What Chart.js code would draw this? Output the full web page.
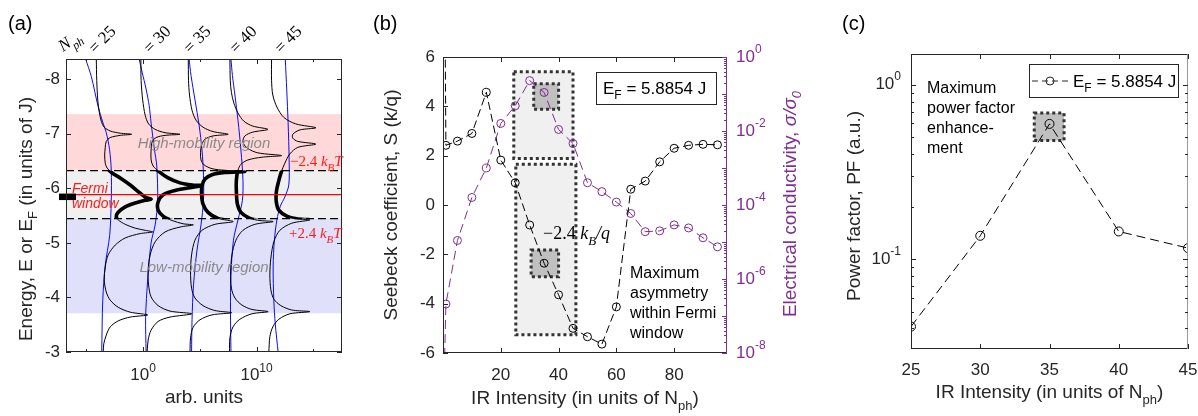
<!DOCTYPE html>
<html>
<head>
<meta charset="utf-8">
<title>IR intensity: DOS, Seebeck coefficient and power factor</title>
<script src="https://cdn.jsdelivr.net/npm/chart.js@4.4.1/dist/chart.umd.min.js"></script>
<style>
  html, body { margin: 0; padding: 0; background: #fff; }
  #wrap { position: relative; width: 1198px; height: 416px; overflow: hidden; }
  canvas { position: absolute; top: 0; }
</style>
</head>
<body>
<div id="wrap">
  <canvas id="chartA" width="360" height="416" style="left:0px"></canvas>
  <canvas id="chartB" width="460" height="416" style="left:360px"></canvas>
  <canvas id="chartC" width="378" height="416" style="left:820px"></canvas>
</div>
<script>
// ---------- (a) density of states / occupation curves ----------
// points are [log10(arb. units), energy in J]
const energyTicks = [-8, -7, -6, -5, -4, -3];
const arbTicksMajor = [0, 10];
const arbTicksMinor = [-5, 5, 15];
const photonCounts = [25, 30, 35, 40, 45];
const fermiLevel = -5.8854;
const windowHalf = 0.44;          // 2.4 kBT
const highBand = [-7.36, -6.3254];
const lowBand = [-5.4454, -3.71];

const dos25 = [[-4.13,-8.37],[-4.09,-7.98],[-4.00,-7.62],[-3.87,-7.40],[-3.69,-7.23],[-3.43,-7.12],[-2.90,-7.05],[-2.02,-7.01],[-1.01,-6.99],[-2.02,-6.97],[-2.90,-6.93],[-3.25,-6.86],[-3.34,-6.75],[-3.39,-6.61],[-3.34,-6.46],[-3.17,-6.37],[-2.73,-6.28],[-2.02,-6.19],[-1.14,-6.06],[-0.26,-5.91],[0.26,-5.83],[0.70,-5.80],[0.18,-5.78],[-0.70,-5.73],[-1.58,-5.66],[-2.20,-5.56],[-2.37,-5.48],[-2.20,-5.42],[-1.58,-5.34],[-0.70,-5.27],[0.18,-5.23],[0.84,-5.20],[-0.26,-5.17],[-1.58,-5.09],[-2.46,-4.96],[-3.08,-4.78],[-3.34,-4.56],[-3.43,-4.32],[-3.25,-4.10],[-2.90,-3.95],[-2.20,-3.82],[-1.14,-3.73],[0.40,-3.68],[-1.14,-3.64],[-2.20,-3.57],[-2.90,-3.46],[-3.25,-3.31],[-3.47,-3.15],[-3.52,-3.00]];
const occ25 = [[-5.07,-8.37],[-4.57,-8.05],[-3.98,-7.51],[-3.54,-7.20],[-3.25,-7.02],[-2.96,-6.71],[-2.81,-6.33],[-2.81,-5.78],[-2.95,-5.14],[-3.34,-4.59],[-3.56,-3.95],[-3.65,-3.00]];

const dos30 = [[-0.20,-8.37],[-0.18,-7.98],[-0.04,-7.62],[0.18,-7.34],[0.48,-7.18],[1.06,-7.08],[1.93,-7.02],[3.25,-6.99],[1.93,-6.97],[1.14,-6.93],[0.79,-6.85],[0.70,-6.70],[0.70,-6.52],[0.88,-6.41],[1.32,-6.32],[2.20,-6.19],[3.25,-6.10],[4.31,-6.06],[5.16,-6.05],[4.13,-6.01],[2.81,-5.96],[1.76,-5.88],[1.32,-5.75],[1.32,-5.60],[1.76,-5.49],[2.55,-5.41],[3.52,-5.35],[4.42,-5.33],[3.25,-5.29],[1.93,-5.20],[1.06,-5.02],[0.62,-4.78],[0.44,-4.50],[0.48,-4.23],[0.70,-4.01],[1.32,-3.85],[2.37,-3.75],[4.28,-3.70],[2.37,-3.64],[1.32,-3.56],[0.70,-3.40],[0.44,-3.22],[0.35,-3.00]];
const occ30 = [[-0.35,-8.37],[-0.09,-8.13],[0.26,-7.82],[0.53,-7.52],[0.70,-7.20],[0.99,-6.72],[1.20,-6.41],[1.28,-5.78],[1.06,-5.33],[0.70,-5.00],[0.40,-4.32],[0.22,-3.64],[0.26,-3.00]];

const dos35 = [[3.98,-8.37],[4.00,-7.98],[4.09,-7.71],[4.31,-7.43],[4.66,-7.25],[5.28,-7.12],[6.16,-7.04],[7.50,-6.99],[6.16,-6.96],[5.45,-6.90],[5.15,-6.79],[5.06,-6.66],[5.10,-6.52],[5.37,-6.43],[6.07,-6.36],[7.21,-6.33],[8.97,-6.31],[7.21,-6.29],[6.07,-6.25],[5.45,-6.17],[5.19,-6.04],[5.15,-5.89],[5.28,-5.71],[5.72,-5.56],[6.60,-5.45],[7.94,-5.39],[6.33,-5.34],[5.19,-5.23],[4.57,-5.05],[4.27,-4.78],[4.18,-4.47],[4.27,-4.17],[4.57,-3.99],[5.28,-3.85],[6.33,-3.76],[7.80,-3.72],[6.07,-3.68],[5.01,-3.59],[4.40,-3.45],[4.18,-3.26],[4.13,-3.00]];
const occ35 = [[4.05,-8.37],[4.22,-8.07],[4.57,-7.62],[4.93,-7.16],[5.19,-6.70],[5.32,-6.24],[5.32,-5.78],[5.10,-5.33],[4.75,-4.87],[4.44,-4.23],[4.31,-3.59],[4.27,-3.00]];

const dos40 = [[7.65,-8.37],[7.68,-7.98],[7.78,-7.76],[8.00,-7.56],[8.36,-7.38],[8.88,-7.23],[9.67,-7.14],[11.00,-7.08],[9.67,-7.03],[8.97,-6.96],[8.80,-6.85],[9.15,-6.74],[10.11,-6.65],[12.20,-6.60],[10.47,-6.57],[9.24,-6.52],[8.62,-6.44],[8.36,-6.33],[8.22,-6.15],[8.22,-5.93],[8.31,-5.71],[8.62,-5.56],[9.41,-5.45],[10.29,-5.41],[11.46,-5.39],[9.85,-5.34],[8.80,-5.23],[8.18,-5.05],[7.83,-4.78],[7.71,-4.47],[7.78,-4.17],[8.09,-3.99],[8.71,-3.86],[9.59,-3.78],[11.02,-3.74],[9.59,-3.70],[8.53,-3.60],[7.92,-3.46],[7.65,-3.26],[7.61,-3.00]];
const occ40 = [[7.74,-8.37],[7.87,-8.07],[8.09,-7.71],[8.36,-7.25],[8.62,-6.70],[8.80,-6.15],[8.75,-5.78],[8.36,-5.42],[7.96,-5.05],[7.74,-4.41],[7.70,-3.77],[7.74,-3.00]];

const dos45 = [[11.32,-8.37],[11.32,-7.98],[11.43,-7.71],[11.79,-7.49],[12.40,-7.30],[13.46,-7.18],[15.22,-7.11],[13.81,-7.07],[13.19,-6.99],[13.19,-6.92],[13.63,-6.86],[15.22,-6.81],[13.63,-6.75],[12.93,-6.63],[12.49,-6.46],[12.18,-6.30],[11.92,-6.11],[11.74,-5.93],[11.74,-5.75],[11.96,-5.60],[12.66,-5.49],[13.54,-5.44],[14.69,-5.42],[13.10,-5.36],[12.05,-5.23],[11.52,-5.02],[11.26,-4.72],[11.17,-4.41],[11.26,-4.14],[11.52,-3.97],[12.14,-3.85],[13.10,-3.77],[14.69,-3.74],[12.93,-3.70],[11.96,-3.60],[11.43,-3.46],[11.17,-3.28],[11.08,-3.00]];
const occ45 = [[12.53,-8.37],[12.66,-7.80],[12.78,-7.20],[12.87,-6.52],[12.84,-6.06],[12.49,-5.84],[12.09,-5.67],[11.79,-5.42],[11.57,-5.05],[11.46,-4.56],[11.52,-3.95],[11.65,-3.51],[11.90,-3.00]];

// ---------- (b) Seebeck coefficient and conductivity ----------
const intensity = [0, 1, 5, 10, 15, 20, 25, 30, 35, 40, 45, 50, 55, 60, 65, 70, 75, 80, 85, 90, 95];
const seebeck = [20, 2.42, 2.59, 2.90, 4.57, 1.82, 0.90, -0.81, -2.36, -3.64, -5.00, -5.34, -5.64, -4.13, 0.64, 0.97, 1.75, 2.30, 2.42, 2.46, 2.44];
const conductivity = [1e-10, 2.1e-7, 1.1e-5, 1.6e-4, 1.0e-3, 1.6e-2, 4.8e-2, 2.3e-1, 1.1e-1, 1.1e-2, 4.6e-3, 4.0e-4, 2.3e-4, 1.2e-4, 5.9e-5, 1.9e-5, 2.0e-5, 2.9e-5, 2.4e-5, 1.3e-5, 7.4e-6];
const seebeckTicks = [-6, -4, -2, 0, 2, 4, 6];
const intensityTicks = [20, 40, 60, 80];
const condTickExp = [0, -2, -4, -6, -8];

// ---------- (c) power factor ----------
const pfIntensity = [25, 30, 35, 40, 45];
const powerFactor = [0.041, 0.136, 0.596, 0.144, 0.1156];
const pfDecades = [-1, 0];

// ---------- helpers ----------
const ink = '#262626';
const purple = '#7e2f8e';
const red = '#ff1a1a';
const sans = "'Liberation Sans', Arial, sans-serif";
const serif = "'Liberation Serif', 'Times New Roman', serif";
const P = (t, o) => Object.assign({ t: t }, o || {});
const toXY = pts => pts.map(p => ({ x: p[0], y: p[1] }));

// draws text pieces (italic / sub / sup) one after another
function rich(ctx, parts, x, y, align, size, family, color) {
  const sm = Math.round(size * 0.7);
  const fontOf = p => (p.it ? 'italic ' : '') + (p.sub || p.sup ? sm : size) + 'px ' + family;
  let w = 0;
  parts.forEach(p => { ctx.font = fontOf(p); p.w = ctx.measureText(p.t).width; w += p.w; });
  let cx = align === 'center' ? x - w / 2 : align === 'right' ? x - w : x;
  ctx.fillStyle = color;
  ctx.textAlign = 'left';
  parts.forEach(p => {
    ctx.font = fontOf(p);
    const dy = p.sub ? size * 0.32 : p.sup ? -size * 0.45 : 0;
    ctx.fillText(p.t, cx, y + dy);
    cx += p.w;
  });
}

function richRot(ctx, parts, cx, cy, size, family, color) {
  ctx.save();
  ctx.translate(cx, cy);
  ctx.rotate(-Math.PI / 2);
  ctx.textBaseline = 'middle';
  rich(ctx, parts, 0, 0, 'center', size, family, color);
  ctx.restore();
}

function frame(ctx, a, leftColor, rightColor) {
  ctx.lineWidth = 1;
  ctx.setLineDash([]);
  ctx.strokeStyle = ink;
  ctx.beginPath();
  ctx.moveTo(a.left, a.top + 0.5); ctx.lineTo(a.right, a.top + 0.5);
  ctx.moveTo(a.left, a.bottom - 0.5); ctx.lineTo(a.right, a.bottom - 0.5);
  ctx.stroke();
  ctx.strokeStyle = leftColor;
  ctx.beginPath(); ctx.moveTo(a.left + 0.5, a.top); ctx.lineTo(a.left + 0.5, a.bottom); ctx.stroke();
  ctx.strokeStyle = rightColor;
  ctx.beginPath(); ctx.moveTo(a.right - 0.5, a.top); ctx.lineTo(a.right - 0.5, a.bottom); ctx.stroke();
}

function ticksX(ctx, a, px, len) {
  const p = Math.round(px) + 0.5;
  ctx.moveTo(p, a.bottom); ctx.lineTo(p, a.bottom - len);
  ctx.moveTo(p, a.top); ctx.lineTo(p, a.top + len);
}

function tickY(ctx, a, py, len, side) {
  const p = Math.round(py) + 0.5;
  if (side !== 'right') { ctx.moveTo(a.left, p); ctx.lineTo(a.left + len, p); }
  if (side !== 'left') { ctx.moveTo(a.right, p); ctx.lineTo(a.right - len, p); }
}

function dottedBox(ctx, x, y, x0, x1, y0, y1, fill) {
  const l = x.getPixelForValue(x0), r = x.getPixelForValue(x1);
  const t = y.getPixelForValue(y0), b = y.getPixelForValue(y1);
  ctx.fillStyle = fill;
  ctx.fillRect(l, t, r - l, b - t);
  ctx.setLineDash([3, 3]);
  ctx.lineWidth = 3;
  ctx.strokeStyle = '#333';
  ctx.strokeRect(l, t, r - l, b - t);
  ctx.setLineDash([]);
}

const baseOptions = {
  responsive: false,
  animation: false,
  devicePixelRatio: 1,
  events: [],
  plugins: { legend: { display: false }, tooltip: { enabled: false } }
};

// ---------- panel (a) ----------
const columns = [
  { dos: dos25, occ: occ25 }, { dos: dos30, occ: occ30 }, { dos: dos35, occ: occ35 },
  { dos: dos40, occ: occ40 }, { dos: dos45, occ: occ45 }
];
const curve = { showLine: true, pointRadius: 0, tension: 0.3, fill: false, borderJoinStyle: 'round' };
const setsA = [];
columns.forEach(col => {
  setsA.push({ ...curve, data: toXY(col.occ), borderColor: '#0a0aff', borderWidth: 1, order: 2 });
  setsA.push({ ...curve, data: toXY(col.dos), borderColor: '#000', borderWidth: 1, order: 1 });
  setsA.push({ ...curve, data: toXY(col.dos), borderColor: '#000', borderWidth: 3.6, order: 0, windowOnly: true });
});

const panelA = {
  id: 'panelA',
  beforeDatasetsDraw(chart) {
    const { ctx, chartArea: a, scales: { y } } = chart;
    const band = (lo, hi, color) => {
      const t = y.getPixelForValue(lo), b = y.getPixelForValue(hi);
      ctx.fillStyle = color;
      ctx.fillRect(a.left, t, a.right - a.left, b - t);
    };
    ctx.save();
    band(highBand[0], highBand[1], '#ffd9d9');
    band(fermiLevel - windowHalf, fermiLevel + windowHalf, '#f0f0f0');
    band(lowBand[0], lowBand[1], '#e0e0fa');
    ctx.restore();
  },
  beforeDatasetDraw(chart, args) {
    if (!chart.data.datasets[args.index].windowOnly) return;
    const { ctx, chartArea: a, scales: { y } } = chart;
    const t = y.getPixelForValue(fermiLevel - windowHalf), b = y.getPixelForValue(fermiLevel + windowHalf);
    ctx.save();
    ctx.beginPath();
    ctx.rect(a.left, t, a.right - a.left, b - t);
    ctx.clip();
  },
  afterDatasetDraw(chart, args) {
    if (chart.data.datasets[args.index].windowOnly) chart.ctx.restore();
  },
  afterDatasetsDraw(chart) {
    const { ctx, chartArea: a, scales: { y } } = chart;
    ctx.save();
    ctx.lineWidth = 1.2;
    ctx.strokeStyle = '#000';
    ctx.setLineDash([8, 4]);
    [fermiLevel - windowHalf, fermiLevel + windowHalf].forEach(v => {
      const p = y.getPixelForValue(v);
      ctx.beginPath(); ctx.moveTo(a.left, p); ctx.lineTo(a.right, p); ctx.stroke();
    });
    ctx.setLineDash([]);
    ctx.strokeStyle = '#ff0000';
    const ef = y.getPixelForValue(fermiLevel);
    ctx.beginPath(); ctx.moveTo(a.left, ef); ctx.lineTo(a.right, ef); ctx.stroke();
    ctx.restore();
  },
  afterDraw(chart) {
    const { ctx, chartArea: a, scales: { x, y } } = chart;
    ctx.save();
    const ef = y.getPixelForValue(fermiLevel);
    ctx.fillStyle = '#000';
    ctx.fillRect(a.left - 7, ef - 1, 17, 6.5);

    frame(ctx, a, ink, ink);
    ctx.strokeStyle = ink;
    ctx.lineWidth = 1;
    ctx.beginPath();
    energyTicks.forEach(v => tickY(ctx, a, y.getPixelForValue(v), 5));
    arbTicksMajor.forEach(v => ticksX(ctx, a, x.getPixelForValue(v), 5));
    arbTicksMinor.forEach(v => ticksX(ctx, a, x.getPixelForValue(v), 3));
    ctx.stroke();

    ctx.textBaseline = 'middle';
    energyTicks.forEach(v => rich(ctx, [P(String(v))], a.left - 6, y.getPixelForValue(v), 'right', 17, sans, ink));
    ctx.textBaseline = 'alphabetic';
    arbTicksMajor.forEach(v => rich(ctx, [P('10'), P(String(v), { sup: 1 })], x.getPixelForValue(v), 380, 'center', 17, sans, ink));
    rich(ctx, [P('arb. units')], (a.left + a.right) / 2, 403, 'center', 19, sans, ink);
    richRot(ctx, [P('Energy, E or E'), P('F', { sub: 1 }), P(' (in units of J)')], 27, 219, 19, sans, ink);
    ctx.textBaseline = 'alphabetic';

    rich(ctx, [P('(a)')], 8, 30, 'left', 20, sans, '#000');
    rich(ctx, [P('Fermi', { it: 1 })], 72, 193, 'left', 14, sans, red);
    rich(ctx, [P('window', { it: 1 })], 72, 208, 'left', 14, sans, red);
    rich(ctx, [P('High-mobility region', { it: 1 })], 204, 148, 'center', 15, sans, '#8a8a8a');
    rich(ctx, [P('Low-mobility region', { it: 1 })], 204, 272, 'center', 15, sans, '#8a8a8a');
    rich(ctx, [P('\u22122.4 '), P('k', { it: 1 }), P('B', { it: 1, sub: 1 }), P('T', { it: 1 })], 290, 166, 'left', 15, serif, red);
    rich(ctx, [P('+2.4 '), P('k', { it: 1 }), P('B', { it: 1, sub: 1 }), P('T', { it: 1 })], 289, 238, 'left', 15, serif, red);

    // slanted column headers
    const tilt = (parts, x0, y0, deg) => {
      ctx.save();
      ctx.translate(x0, y0);
      ctx.rotate(deg * Math.PI / 180);
      rich(ctx, parts, 0, 0, 'left', 17, serif, '#000');
      ctx.restore();
    };
    tilt([P('N', { it: 1 }), P('ph', { it: 1, sub: 1 })], 63, 52, -35);
    const headerX = [95, 150, 190, 236, 281];
    photonCounts.forEach((n, i) => tilt([P('= ' + n)], headerX[i], 54, -45));
    ctx.restore();
  }
};

new Chart(document.getElementById('chartA'), {
  type: 'scatter',
  data: { datasets: setsA },
  options: {
    ...baseOptions,
    layout: { padding: { left: 66, right: 18, top: 59, bottom: 64 } },
    scales: {
      x: { type: 'linear', display: false, min: -6.8, max: 17.53 },
      y: { type: 'linear', display: false, min: -8.37, max: -3, reverse: true }
    }
  },
  plugins: [panelA]
});

// ---------- panel (b) ----------
const marker = { pointRadius: 4, pointStyle: 'circle', pointBackgroundColor: 'rgba(0,0,0,0)', pointBorderWidth: 1, showLine: true, tension: 0, borderWidth: 1 };

const panelB = {
  id: 'panelB',
  beforeDatasetsDraw(chart) {
    const { ctx, scales: { x, y } } = chart;
    ctx.save();
    dottedBox(ctx, x, y, 24.5, 45, 5.4, 1.89, '#f0f0f0');
    dottedBox(ctx, x, y, 25.2, 46, 1.65, -5.26, '#f0f0f0');
    dottedBox(ctx, x, y, 31.4, 40, 4.92, 3.88, '#c0c0c0');
    dottedBox(ctx, x, y, 30.5, 40, -1.82, -2.91, '#c0c0c0');
    ctx.restore();
  },
  afterDraw(chart) {
    const { ctx, chartArea: a, scales: { x, y, y1 } } = chart;
    ctx.save();
    frame(ctx, a, ink, purple);
    ctx.lineWidth = 1;
    ctx.strokeStyle = ink;
    ctx.beginPath();
    seebeckTicks.forEach(v => tickY(ctx, a, y.getPixelForValue(v), 5, 'left'));
    intensityTicks.forEach(v => ticksX(ctx, a, x.getPixelForValue(v), 5));
    ctx.stroke();
    ctx.strokeStyle = purple;
    ctx.beginPath();
    for (let e = -8; e <= 0; e++) {
      tickY(ctx, a, y1.getPixelForValue(Math.pow(10, e)), 5, 'right');
      if (e < 0) for (let m = 2; m <= 9; m++) tickY(ctx, a, y1.getPixelForValue(m * Math.pow(10, e)), 3, 'right');
    }
    ctx.stroke();

    ctx.textBaseline = 'middle';
    seebeckTicks.forEach(v => rich(ctx, [P(String(v))], a.left - 8, y.getPixelForValue(v), 'right', 17, sans, ink));
    condTickExp.forEach(e => rich(ctx, [P('10'), P(String(e), { sup: 1 })], a.right + 9, y1.getPixelForValue(Math.pow(10, e)), 'left', 17, sans, purple));
    ctx.textBaseline = 'alphabetic';
    intensityTicks.forEach(v => rich(ctx, [P(String(v))], x.getPixelForValue(v), 380, 'center', 17, sans, ink));
    rich(ctx, [P('IR Intensity (in units of N'), P('ph', { sub: 1 }), P(')')], (a.left + a.right) / 2, 404, 'center', 19, sans, ink);
    richRot(ctx, [P('Seebeck coefficient, S (k/q)')], 32, 205, 19, sans, ink);
    richRot(ctx, [P('Electrical conductivity, '), P('\u03c3/\u03c3', { it: 1 }), P('0', { it: 1, sub: 1 })], 431, 204, 19, sans, purple);
    ctx.textBaseline = 'alphabetic';

    rich(ctx, [P('(b)')], 13, 30, 'left', 20, sans, '#000');
    // legend
    ctx.fillStyle = '#fff';
    ctx.fillRect(a.right - 131, a.top + 15, 121, 33);
    ctx.strokeStyle = ink;
    ctx.lineWidth = 1;
    ctx.strokeRect(a.right - 130.5, a.top + 15.5, 120, 32);
    rich(ctx, [P('E'), P('F', { sub: 1 }), P(' = 5.8854 J')], a.right - 124, a.top + 37, 'left', 17, sans, '#000');

    rich(ctx, [P('\u22122.4 '), P('k', { it: 1 }), P('B', { it: 1, sub: 1 }), P('/q', { it: 1 })], 183, 239, 'left', 18, serif, '#000');
    ['Maximum', 'asymmetry', 'within Fermi', 'window'].forEach((t, i) => rich(ctx, [P(t)], 270, 278 + i * 20, 'left', 16, sans, '#000'));
    ctx.restore();
  }
};

new Chart(document.getElementById('chartB'), {
  type: 'scatter',
  data: {
    datasets: [
      { ...marker, data: intensity.map((v, i) => ({ x: v, y: seebeck[i] })), yAxisID: 'y', borderColor: '#000', pointBorderColor: '#000', borderDash: [8, 4], order: 0 },
      { ...marker, data: intensity.map((v, i) => ({ x: v, y: conductivity[i] })), yAxisID: 'y1', borderColor: purple, pointBorderColor: purple, borderDash: [9, 5], order: 1 }
    ]
  },
  options: {
    ...baseOptions,
    layout: { padding: { left: 83, right: 93, top: 57, bottom: 63 } },
    scales: {
      x: { type: 'linear', display: false, min: 0, max: 98.3 },
      y: { type: 'linear', display: false, min: -6, max: 6 },
      y1: { type: 'logarithmic', display: false, position: 'right', min: 1e-8, max: 1 }
    }
  },
  plugins: [panelB]
});

// ---------- panel (c) ----------
const panelC = {
  id: 'panelC',
  beforeDatasetsDraw(chart) {
    const { ctx, scales: { x, y } } = chart;
    ctx.save();
    dottedBox(ctx, x, y, 33.9, 36.05, 0.688, 0.479, '#c0c0c0');
    ctx.restore();
  },
  afterDraw(chart) {
    const { ctx, chartArea: a, scales: { x, y } } = chart;
    ctx.save();
    frame(ctx, a, ink, '#9a9a9a');
    ctx.strokeStyle = ink;
    ctx.lineWidth = 1;
    ctx.beginPath();
    pfIntensity.forEach(v => ticksX(ctx, a, x.getPixelForValue(v), 5));
    for (let e = -2; e <= 0; e++) {
      for (let m = 1; m <= 9; m++) {
        const v = m * Math.pow(10, e);
        if (v < y.min || v > y.max) continue;
        tickY(ctx, a, y.getPixelForValue(v), m === 1 ? 5 : 3);
      }
    }
    ctx.stroke();

    ctx.textBaseline = 'middle';
    pfDecades.forEach(e => rich(ctx, [P('10'), P(String(e), { sup: 1 })], a.left - 10, y.getPixelForValue(Math.pow(10, e)), 'right', 17, sans, ink));
    ctx.textBaseline = 'alphabetic';
    pfIntensity.forEach(v => rich(ctx, [P(String(v))], x.getPixelForValue(v), 375, 'center', 17, sans, ink));
    rich(ctx, [P('IR Intensity (in units of N'), P('ph', { sub: 1 }), P(')')], (a.left + a.right) / 2, 398, 'center', 19, sans, ink);
    richRot(ctx, [P('Power factor, PF (a.u.)')], 35, 206, 19, sans, ink);
    ctx.textBaseline = 'alphabetic';

    rich(ctx, [P('(c)')], 22, 30, 'left', 20, sans, '#000');
    // legend
    const lx = a.right - 159, ly = a.top + 10;
    ctx.fillStyle = '#fff';
    ctx.fillRect(lx, ly, 150, 34);
    ctx.strokeStyle = ink;
    ctx.strokeRect(lx + 0.5, ly + 0.5, 149, 33);
    ctx.setLineDash([6, 4]);
    ctx.beginPath(); ctx.moveTo(lx + 3, ly + 17); ctx.lineTo(lx + 40, ly + 17); ctx.stroke();
    ctx.setLineDash([]);
    ctx.beginPath(); ctx.arc(lx + 21, ly + 17, 4, 0, Math.PI * 2); ctx.stroke();
    rich(ctx, [P('E'), P('F', { sub: 1 }), P(' = 5.8854 J')], lx + 44, ly + 23, 'left', 17, sans, '#000');

    ['Maximum', 'power factor', 'enhance-', 'ment'].forEach((t, i) => rich(ctx, [P(t)], 107, 93 + i * 20, 'left', 16, sans, '#000'));
    ctx.restore();
  }
};

new Chart(document.getElementById('chartC'), {
  type: 'scatter',
  data: {
    datasets: [
      { ...marker, pointRadius: 4.5, data: pfIntensity.map((v, i) => ({ x: v, y: powerFactor[i] })), borderColor: '#000', pointBorderColor: '#000', borderDash: [9, 5] }
    ]
  },
  options: {
    ...baseOptions,
    layout: { padding: { left: 91, right: 10, top: 54, bottom: 67 } },
    scales: {
      x: { type: 'linear', display: false, min: 25, max: 45 },
      y: { type: 'logarithmic', display: false, min: 0.0305, max: 1.5 }
    }
  },
  plugins: [panelC]
});
</script>
</body>
</html>
